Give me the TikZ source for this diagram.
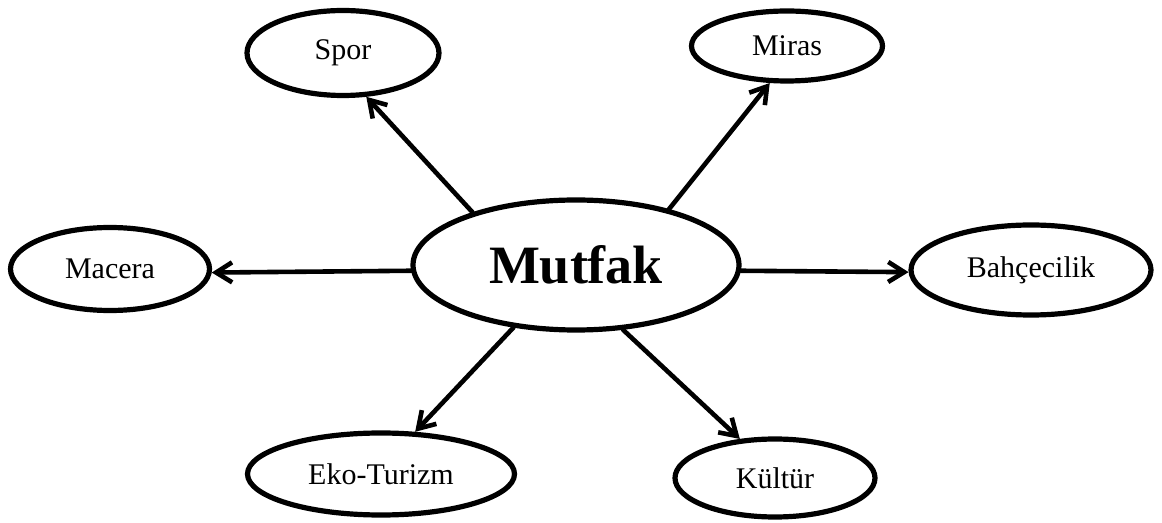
\documentclass[tikz,border=0pt]{standalone}
\usepackage{fontspec}
\setmainfont{Liberation Serif}
\usepackage{tikz}
\usetikzlibrary{arrows.meta, shapes.geometric}

\begin{document}
\begin{tikzpicture}[x=0.5pt, y=-0.5pt,
  >={Straight Barb[length=8pt, width=10pt]},
  topic/.style={ellipse, draw, line width=2.6pt, inner sep=0pt,
    font=\fontsize{15}{18}\selectfont},
  link/.style={->, line width=2.3pt, line cap=round, line join=round}]

  \useasboundingbox (0,0) rectangle (1162,523);

  % --- the hub ---------------------------------------------------------------
  \node[topic, minimum width=163pt, minimum height=65pt,
    font=\fontsize{27}{32}\selectfont\bfseries] (mutfak) at (576,265) {Mutfak};

  % --- surrounding topics ----------------------------------------------------
  \node[topic, minimum width=96pt,  minimum height=42.5pt] (spor)   at (343,53)   {Spor};
  \node[topic, minimum width=95.5pt, minimum height=35pt]  (miras)  at (787,46)   {\raisebox{-2pt}{Miras}};
  \node[topic, minimum width=99.5pt, minimum height=41.5pt] (macera) at (110,269) {Macera};
  \node[topic, minimum width=120pt, minimum height=45pt]   (bahce)  at (1031,270) {Bahçecilik};
  \node[topic, minimum width=133.5pt, minimum height=41pt] (eko)    at (381,474)  {Eko-Turizm};
  \node[topic, minimum width=100pt, minimum height=39pt]   (kultur) at (775,478)  {Kültür};

  % --- arrows out of the hub -------------------------------------------------
  \draw[link] (mutfak.153) -- (spor.298);
  \draw[link] (mutfak.31)  -- (miras.245);
  \draw[link] (mutfak.182) -- (macera.358);
  \draw[link] (mutfak.358) -- (bahce.181);
  \draw[link] (mutfak.225) -- (eko.51);
  \draw[link] (mutfak.306) -- (kultur.132);

\end{tikzpicture}
\end{document}
